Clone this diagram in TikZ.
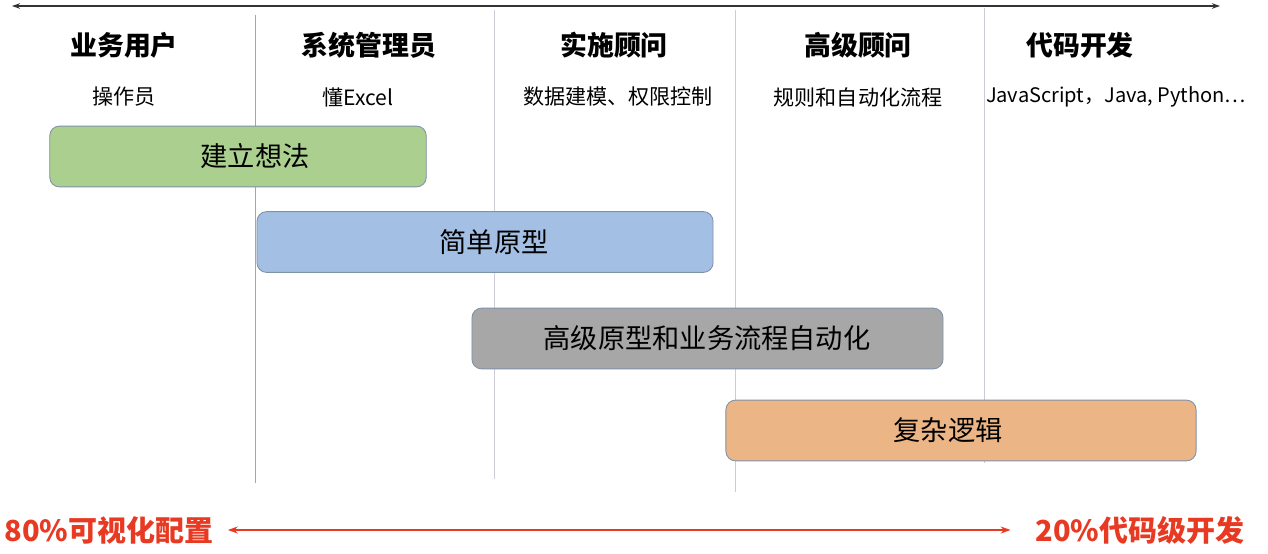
\documentclass[tikz,border=0pt]{standalone}
\usepackage{fontspec}
\setmainfont{Noto Sans CJK SC}
\usepackage{tikz}
\usetikzlibrary{arrows.meta}
\definecolor{ideac}{RGB}{170,207,143}
\definecolor{protoc}{RGB}{163,192,228}
\definecolor{autoc}{RGB}{167,167,167}
\definecolor{logicc}{RGB}{236,181,134}
\definecolor{edgec}{RGB}{128,145,170}
\definecolor{redc}{RGB}{232,58,34}
\tikzset{
  role/.style={font=\fontsize{15.3}{18}\selectfont\bfseries,inner sep=0pt},
  skill/.style={font=\fontsize{12}{14}\selectfont,inner sep=0pt},
  phase/.style={rectangle,rounded corners=5.5pt,draw=edgec,line width=0.5pt,
    minimum height=34.6pt,inner sep=0pt},
  phasetext/.style={font=\fontsize{15.5}{18}\selectfont,inner sep=0pt},
  sep/.style={line width=0.5pt,black!35},
  seplight/.style={line width=0.5pt,blue!25!black!20},
  axis/.style={{Stealth[length=1.6mm,width=1.1mm]}-{Stealth[length=1.6mm,width=1.1mm]},line width=0.7pt,black!80},
  ratio/.style={font=\fontsize{16.5}{20}\selectfont\bfseries,text=redc,inner sep=0pt},
  ratioarrow/.style={{Stealth[length=2mm,width=1.4mm]}-{Stealth[length=2mm,width=1.4mm]},line width=0.9pt,redc},
}
% column borders, in pixels of the 1268x554 frame
\newcommand{\Borders}{%
  \coordinate (s1t) at (255,15);  \coordinate (s1b) at (255,483);
  \coordinate (s2t) at (494,10);  \coordinate (s2b) at (494,479);
  \coordinate (s3t) at (735,10);  \coordinate (s3b) at (735,492);
  \coordinate (s4t) at (984,8);   \coordinate (s4b) at (984,463);
  \draw[sep] (s1t)--(s1b);
  \draw[seplight] (s2t)--(s2b); \draw[seplight] (s3t)--(s3b); \draw[seplight] (s4t)--(s4b);
}
\begin{document}
\begin{tikzpicture}[x=0.02cm,y=-0.02cm]
  \useasboundingbox (0,0) rectangle (1268,554);
  \Borders
  \coordinate (axl) at (12,6); \coordinate (axr) at (1220,6);
  \draw[axis] (axl)--(axr);
  % roles
  \node[role] (r1) at (124,45){业务用户};
  \node[role] (r2) at (369,45){系统管理员};
  \node[role] (r3) at (614,45){实施顾问};
  \node[role] (r4) at (858,45){高级顾问};
  \node[role] (r5) at (1080,45){代码开发};
  \node[skill] (k1) at (124,97){操作员};
  \node[skill] (k2) at (358,97){懂Excel};
  \node[skill] (k3) at (618,97){数据建模、权限控制};
  \node[skill,font=\fontsize{11.4}{14}\selectfont] (k5) at (1116,97){JavaScript，Java, Python…};
  \node[skill] (k4) at (858,97){规则和自动化流程};
  % phases
  \node[phase,fill=ideac,minimum width=214.3pt]  (idea)  at (238,156.5){};
  \node[phase,fill=protoc,minimum width=259.6pt] (proto) at (485,242){};
  \node[phase,fill=autoc,minimum width=268.1pt]  (auto)  at (707.5,338.5){};
  \node[phase,fill=logicc,minimum width=267.6pt] (logic) at (961,430.5){};
  \node[phasetext] (ideat)  at (255,156.5){建立想法};
  \node[phasetext] (protot) at (494,242){简单原型};
  \node[phasetext] (autot)  at (707,338.5){高级原型和业务流程自动化};
  \node[phasetext] (logict) at (948,430.5){复杂逻辑};
  % ratio
  \node[ratio] (low)  at (109,530){80\%可视化配置};
  \node[ratio] (high) at (1140,530){20\%代码级开发};
  \draw[ratioarrow,shorten <=8pt,shorten >=14pt] (low.east)--(high.west);
\end{tikzpicture}
\end{document}
